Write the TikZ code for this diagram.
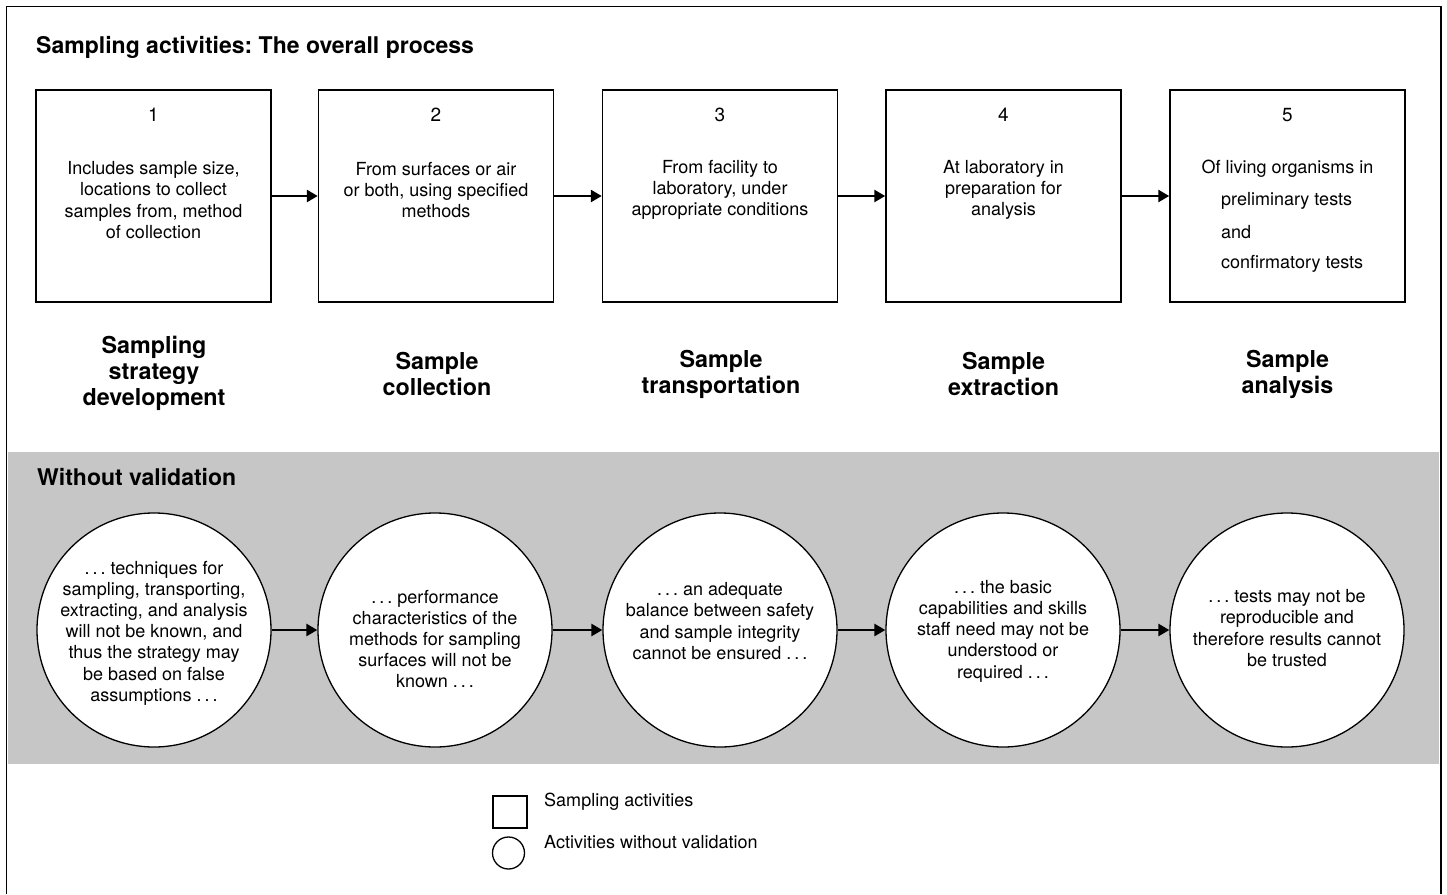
\documentclass[tikz,border=0pt]{standalone}
\usepackage{fontspec}
\setmainfont{TeX Gyre Heros}
\usetikzlibrary{arrows.meta}
\definecolor{band}{HTML}{C6C6C6}
\frenchspacing
\begin{document}
\begin{tikzpicture}[x=1pt,y=-1pt,
  box/.style={draw, line width=1.5pt, minimum width=235pt, minimum height=212pt, inner sep=0pt},
  circ/.style={draw, circle, fill=white, line width=1.3pt, minimum size=234pt, inner sep=0pt},
  body/.style={align=center, inner sep=0pt, font=\fontsize{18}{21.2}\selectfont},
  lbody/.style={align=left, inner sep=0pt, anchor=west, font=\fontsize{18}{21}\selectfont},
  num/.style={inner sep=0pt, font=\fontsize{19}{21}\selectfont},
  stage/.style={align=center, inner sep=0pt, font=\bfseries\fontsize{23.3}{26}\selectfont},
  head/.style={anchor=west, inner sep=0pt, font=\bfseries\fontsize{23}{26}\selectfont},
  arr/.style={-{Triangle[length=11pt,width=12pt]}, line width=2.6pt}]
\useasboundingbox (0,0) rectangle (1447,894);
\fill[white] (0,0) rectangle (1447,894);
\fill[band] (8,452) rectangle (1439,764);
\draw[line width=1.6pt] (6.5,894) -- (6.5,6.5) -- (1441,6.5) -- (1441,894);

\node[head] (title) at (36,47) {Sampling activities: The overall process};

% boxes
\node[box] (b1) at (153.5,196) {};
\node[box] (b2) at (436,196) {};
\node[box] (b3) at (720,196) {};
\node[box] (b4) at (1003.5,196) {};
\node[box] (b5) at (1287.5,196) {};

\node[num] (n1) at (153.5,115) {1};
\node[num] (n2) at (436,115) {2};
\node[num] (n3) at (720,115) {3};
\node[num] (n4) at (1003.5,115) {4};
\node[num] (n5) at (1287.5,115) {5};

\node[body] (t1) at (153.5,200) {Includes sample size,\\locations to collect\\samples from, method\\of collection};
\node[body] (t2) at (436,190) {From surfaces or air\\or both, using specified\\methods};
\node[body] (t3) at (720,190) {From facility to\\laboratory, under\\appropriate conditions};
\node[body] (t4) at (1003.5,190) {At laboratory in\\preparation for\\analysis};
\node[body] (t5a) at (1287.5,169) {Of living organisms in};
\node[lbody] (t5b) at (1221,201) {preliminary tests};
\node[lbody] (t5c) at (1221,232) {and};
\node[lbody] (t5d) at (1221,264) {confirmatory tests};

\draw[arr] (b1) -- (b2);
\draw[arr] (b2) -- (b3);
\draw[arr] (b3) -- (b4);
\draw[arr] (b4) -- (b5);

% stage labels
\node[stage] (s1) at (154,373) {Sampling\\strategy\\development};
\node[stage] (s2) at (437,374) {Sample\\collection};
\node[stage] (s3) at (721,374) {Sample\\transportation};
\node[stage] (s4) at (1003.5,374) {Sample\\extraction};
\node[stage] (s5) at (1287.5,374) {Sample\\analysis};

% without validation
\node[head] (wv) at (37,477) {Without validation};

\node[circ] (c1) at (154,630) {};
\node[circ] (c2) at (435,630) {};
\node[circ] (c3) at (720,630) {};
\node[circ] (c4) at (1003,630) {};
\node[circ] (c5) at (1287,630) {};

\node[body] (ct1) at (154,633) {.\,.\,.\ techniques for\\sampling, transporting,\\extracting, and analysis\\will not be known, and\\thus the strategy may\\be based on false\\assumptions .\,.\,.};
\node[body] (ct2) at (435,639) {.\,.\,.\ performance\\characteristics of the\\methods for sampling\\surfaces will not be\\known .\,.\,.};
\node[body] (ct3) at (720,621) {.\,.\,.\ an adequate\\balance between safety\\and sample integrity\\cannot be ensured .\,.\,.};
\node[body] (ct4) at (1003,631) {.\,.\,.\ the basic\\capabilities and skills\\staff need may not be\\understood or\\required .\,.\,.};
\node[body] (ct5) at (1287,628) {.\,.\,.\ tests may not be\\reproducible and\\therefore results cannot\\be trusted};

\draw[arr] (c1) -- (c2);
\draw[arr] (c2) -- (c3);
\draw[arr] (c3) -- (c4);
\draw[arr] (c4) -- (c5);

% legend
\node[draw, line width=1.3pt, minimum width=34pt, minimum height=32pt, inner sep=0pt] (lsq) at (510,812) {};
\node[draw, circle, line width=1.3pt, minimum size=32pt, inner sep=0pt] (lci) at (508.5,853) {};
\node[lbody] (ls) at (544,802) {Sampling activities};
\node[lbody] (lc) at (544,842) {Activities without validation};
\end{tikzpicture}
\end{document}
